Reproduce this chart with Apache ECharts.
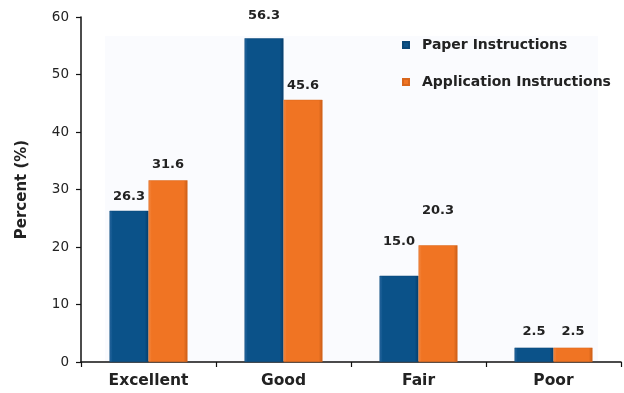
<!DOCTYPE html>
<html>
<head>
<meta charset="utf-8">
<script src="https://cdn.jsdelivr.net/npm/echarts@6/dist/echarts.min.js"></script>
<style>html,body{margin:0;padding:0;background:#fff}#c{width:624px;height:393px}</style>
</head>
<body>
<div id="c"></div>
<script>
const categories = ['Excellent', 'Good', 'Fair', 'Poor'];
const paperValues = [26.3, 56.3, 15.0, 2.5];
const applicationValues = [31.6, 45.6, 20.3, 2.5];
const seriesNames = ['Paper Instructions', 'Application Instructions'];
const yTicks = [0, 10, 20, 30, 40, 50, 60];

const labelDist = { paper: [8, 16, 28, 10], app: [9, 8, 28, 10] };
const FONT = 'DejaVu Sans, Liberation Sans, Arial, sans-serif';

function grad(light, mid, dark) {
  return new echarts.graphic.LinearGradient(0, 0, 1, 0, [
    { offset: 0, color: light },
    { offset: 0.08, color: mid },
    { offset: 0.9, color: mid },
    { offset: 1, color: dark }
  ]);
}

function build(values, dists) {
  return values.map((v, i) => ({
    value: v,
    label: { distance: dists[i] }
  }));
}

const chart = echarts.init(document.getElementById('c'), null, { renderer: 'canvas' });
chart.setOption({
  animation: false,
  backgroundColor: '#ffffff',
  textStyle: { fontFamily: FONT },
  graphic: [{
    type: 'rect', z: -1,
    shape: { x: 105, y: 36, width: 493, height: 326 },
    style: { fill: '#fafbfe' }
  }],
  grid: { left: 81, right: 3, top: 17, bottom: 31, containLabel: false },
  legend: {
    orient: 'vertical',
    left: 397,
    top: 33,
    itemWidth: 6,
    itemHeight: 6,
    itemGap: 23,
    icon: 'rect',
    textStyle: { fontSize: 14, fontWeight: 'bold', color: '#222', fontFamily: FONT, padding: [0, 0, 0, 8] },
    data: seriesNames
  },
  xAxis: {
    type: 'category',
    data: categories,
    axisLine: { lineStyle: { color: '#111', width: 1.5 } },
    axisTick: { show: true, length: 5, lineStyle: { color: '#111', width: 1.2 } },
    axisLabel: { fontSize: 15.5, fontWeight: 'bold', color: '#222', margin: 11, fontFamily: FONT }
  },
  yAxis: {
    type: 'value',
    min: yTicks[0],
    max: yTicks[yTicks.length - 1],
    interval: 10,
    name: 'Percent (%)',
    nameLocation: 'middle',
    nameGap: 51,
    nameTextStyle: { fontSize: 15, fontWeight: 'bold', color: '#222', fontFamily: FONT },
    axisLine: { show: true, lineStyle: { color: '#111', width: 1.5 } },
    axisTick: { show: true, length: 5, lineStyle: { color: '#111', width: 1.2 } },
    splitLine: { show: false },
    axisLabel: { fontSize: 13.5, color: '#222', margin: 12, fontFamily: FONT }
  },
  series: [
    {
      name: seriesNames[0],
      type: 'bar',
      barWidth: 39,
      barGap: '0%',
      data: build(paperValues, labelDist.paper),
      itemStyle: { color: grad('#2a6aa3', '#0b5289', '#073e6a'), borderColor: '#0a4676', borderWidth: 0.5 },
      label: {
        show: true, position: 'top', fontSize: 13, fontWeight: 'bold', color: '#222', fontFamily: FONT,
        formatter: p => p.value.toFixed(1)
      }
    },
    {
      name: seriesNames[1],
      type: 'bar',
      barWidth: 39,
      barGap: '0%',
      data: build(applicationValues, labelDist.app),
      itemStyle: { color: grad('#f48a45', '#f07423', '#c95e18'), borderColor: '#d8661c', borderWidth: 0.5 },
      label: {
        show: true, position: 'top', fontSize: 13, fontWeight: 'bold', color: '#222', fontFamily: FONT,
        formatter: p => p.value.toFixed(1)
      }
    }
  ]
});
</script>
</body>
</html>
